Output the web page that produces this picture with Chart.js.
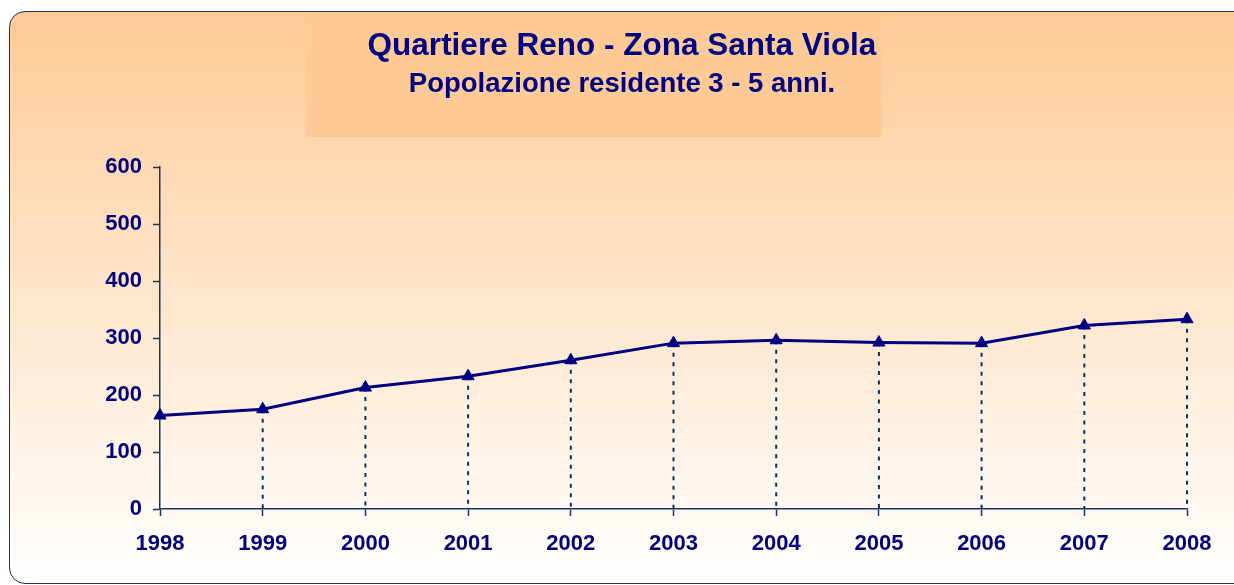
<!DOCTYPE html>
<html>
<head>
<meta charset="utf-8">
<script src="https://cdn.jsdelivr.net/npm/chart.js@4"></script>
<style>
  html, body { margin: 0; padding: 0; background: #fff; }
  body { width: 1234px; height: 585px; position: relative; overflow: hidden; }
  #frame {
    position: absolute; left: 9px; top: 11px; width: 1250px; height: 571px;
    border: 1.5px solid #17375E; border-radius: 16px;
    background: linear-gradient(#FFCA96 0%, #FFE6CC 50%, #FFFFFF 100%);
  }
  #titleBox {
    position: absolute; left: 306px; top: 12px; width: 576px; height: 125px;
    background: #FFCA96;
  }
  #wrap { position: absolute; left: 0; top: 0; width: 1234px; height: 585px; }
</style>
</head>
<body>
<div id="frame"></div>
<div id="titleBox"></div>
<div id="wrap"><canvas id="chart"></canvas></div>
<script>
// Popolazione residente 3 - 5 anni, Zona Santa Viola
const years = ['1998', '1999', '2000', '2001', '2002', '2003', '2004', '2005', '2006', '2007', '2008'];
const residents = [164, 175, 213, 233, 261, 291, 296, 292, 291, 322, 333];
const yTicks = [0, 100, 200, 300, 400, 500, 600];

const navy = '#000080';
const axisColor = '#17375E';
const fontFamily = '"Liberation Sans", Arial, sans-serif';

// dashed drop lines from each point down to the x axis (first one sits on the y axis)
const dropLines = {
  id: 'dropLines',
  beforeDatasetsDraw(chart) {
    const ctx = chart.ctx;
    const bottom = chart.chartArea.bottom;
    const meta = chart.getDatasetMeta(0);
    ctx.save();
    ctx.strokeStyle = '#003366';
    ctx.lineWidth = 2;
    ctx.setLineDash([4, 5.5]);
    meta.data.forEach((pt, i) => {
      if (i === 0) return;
      ctx.beginPath();
      ctx.moveTo(pt.x, pt.y);
      ctx.lineTo(pt.x, bottom);
      ctx.stroke();
    });
    ctx.restore();
  }
};

new Chart(document.getElementById('chart'), {
  type: 'line',
  data: {
    labels: years,
    datasets: [{
      label: 'Popolazione residente 3 - 5 anni',
      data: residents,
      borderColor: navy,
      backgroundColor: navy,
      borderWidth: 3,
      tension: 0,
      pointStyle: 'triangle',
      pointRadius: 7,
      pointBorderWidth: 1,
      pointBackgroundColor: navy,
      pointBorderColor: navy
    }]
  },
  options: {
    responsive: true,
    maintainAspectRatio: false,
    animation: false,
    layout: { padding: { left: 57, right: 47, top: 0, bottom: 0 } },
    plugins: {
      legend: { display: false },
      tooltip: { enabled: false },
      title: {
        display: true,
        text: 'Quartiere Reno - Zona Santa Viola',
        color: navy,
        font: { family: fontFamily, size: 31.5, weight: 'bold', lineHeight: 1.2 },
        padding: { top: 27, bottom: 0 }
      },
      subtitle: {
        display: true,
        text: 'Popolazione residente 3 - 5 anni.',
        color: navy,
        font: { family: fontFamily, size: 27.5, weight: 'bold', lineHeight: 1.2 },
        padding: { top: 3, bottom: 66.2 }
      }
    },
    scales: {
      x: {
        offset: false,
        grid: { offset: false, drawOnChartArea: false, drawTicks: true, tickLength: 7, tickColor: axisColor, tickWidth: 1.5 },
        border: { display: true, color: axisColor, width: 1.5 },
        ticks: {
          color: navy,
          padding: 15,
          maxRotation: 0,
          font: { family: fontFamily, size: 22, weight: 'bold' }
        },
        afterFit(scale) { scale.height = 76; }
      },
      y: {
        min: 0,
        max: 600,
        afterBuildTicks(scale) { scale.ticks = yTicks.map(v => ({ value: v })); },
        grid: { drawOnChartArea: false, drawTicks: true, tickLength: 7, tickColor: axisColor, tickWidth: 1.5 },
        border: { display: true, color: axisColor, width: 1.5 },
        ticks: {
          color: navy,
          padding: 11,
          font: { family: fontFamily, size: 22, weight: 'bold' }
        },
        afterFit(scale) { scale.width = 103; }
      }
    }
  },
  plugins: [dropLines]
});
</script>
</body>
</html>
